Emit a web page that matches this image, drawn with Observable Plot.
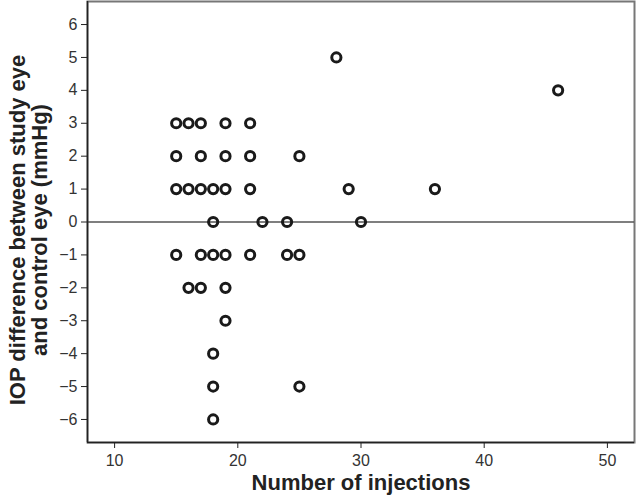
<!DOCTYPE html>
<html><head><meta charset="utf-8">
<script src="https://cdn.jsdelivr.net/npm/d3@7"></script>
<script src="https://cdn.jsdelivr.net/npm/@observablehq/plot@0.6"></script>
<style>
body{margin:0;background:#fff}
</style>
</head><body><div id="chart"></div>
<script>
const injections = [28, 46,
  15, 16, 17, 19, 21,
  15, 17, 19, 21, 25,
  15, 16, 17, 18, 19, 21, 29, 36,
  18, 22, 24, 30,
  15, 17, 18, 19, 21, 24, 25,
  16, 17, 19,
  19,
  18,
  18, 25,
  18];
const iopDiff = [5, 4,
  3, 3, 3, 3, 3,
  2, 2, 2, 2, 2,
  1, 1, 1, 1, 1, 1, 1, 1,
  0, 0, 0, 0,
  -1, -1, -1, -1, -1, -1, -1,
  -2, -2, -2,
  -3,
  -4,
  -5, -5,
  -6];
const xTicks = [10, 20, 30, 40, 50];
const yTicks = [-6, -5, -4, -3, -2, -1, 0, 1, 2, 3, 4, 5, 6];
const xTitle = "Number of injections";
const yTitle = "IOP difference between study eye\nand control eye (mmHg)";
const xDomain = [7.8, 52.2];
const yDomain = [-6.7, 6.7];

const points = injections.map((x, i) => ({x, y: iopDiff[i]}));
const font = "'Liberation Sans', Arial, sans-serif";

const chart = Plot.plot({
  width: 636, height: 497,
  marginLeft: 87, marginRight: 2, marginTop: 1, marginBottom: 55,
  style: {fontFamily: font, fontSize: "16px", color: "#333", background: "#fff", overflow: "visible"},
  x: {domain: xDomain},
  y: {domain: yDomain},
  marks: [
    Plot.frame({stroke: "#777", strokeWidth: 2}),
    Plot.ruleY([0], {stroke: "#555", strokeWidth: 1.5}),
    Plot.ruleX([xDomain[0]], {stroke: "#222", strokeWidth: 1.5}),
    Plot.ruleY([yDomain[0]], {stroke: "#222", strokeWidth: 1.5}),
    Plot.axisX(xTicks, {tickSize: 6, tickPadding: 6, label: null, stroke: "#222", fill: "#333"}),
    Plot.axisY(yTicks, {tickSize: 6, tickPadding: 4, tickFormat: d3.format("d"), label: null, stroke: "#222", fill: "#333"}),
    Plot.dot(points, {x: "x", y: "y", r: 4.6, fill: "none", stroke: "#1a1a1a", strokeWidth: 3}),
    Plot.text([xTitle], {frameAnchor: "bottom", lineAnchor: "middle", textAnchor: "middle", dy: 40, fontSize: 22, fontWeight: "bold", fill: "#222"}),
    Plot.text([yTitle], {frameAnchor: "left", rotate: -90, textAnchor: "middle", lineAnchor: "middle", dx: -59, dy: 8, fontSize: 22, fontWeight: "bold", fill: "#222", lineHeight: 1})
  ]
});
document.getElementById("chart").appendChild(chart);
</script>
</body></html>
